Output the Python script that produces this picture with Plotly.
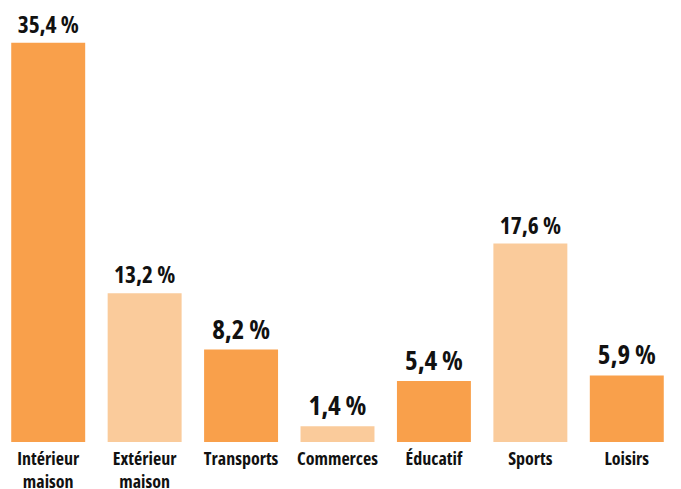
import plotly.graph_objects as go

categories = ["Intérieur<br>maison", "Extérieur<br>maison", "Transports", "Commerces", "Éducatif", "Sports", "Loisirs"]
values = [35.4, 13.2, 8.2, 1.4, 5.4, 17.6, 5.9]
colors = ["#F9A04B", "#FACB9B", "#F9A04B", "#FACB9B", "#F9A04B", "#FACB9B", "#F9A04B"]
labels = [f"{v:.1f}".replace(".", ",") + " %" for v in values]

FONT = "Open Sans, Roboto Condensed, sans-serif"

fig = go.Figure(go.Bar(
    x=categories, y=values, marker=dict(color=colors, line=dict(width=0)),
    text=labels, textposition="outside", cliponaxis=False,
    textfont=dict(family=FONT, size=27, color="#111111", weight="bold"),
))
fig.update_layout(
    width=681, height=489,
    margin=dict(l=0, r=6, t=0, b=47),
    paper_bgcolor="white", plot_bgcolor="white",
    bargap=0.233, showlegend=False,
    font=dict(family=FONT, color="#111111"),
)
fig.update_xaxes(showline=False, showgrid=False, ticks="", automargin=False, tickangle=0,
                 ticklabelstandoff=4,
                 tickfont=dict(family=FONT, size=18, color="#111111", weight="bold"))
fig.update_yaxes(visible=False, range=[0, 39.2], automargin=False)

post = """
document.body.style.margin='0';
var s=document.createElement('style');
s.textContent='body{margin:0 !important;} .js-plotly-plot svg text{font-stretch:62.5% !important;}';
document.head.appendChild(s);
"""
fig.write_html("out.html", post_script=post, config={"displayModeBar": False})
